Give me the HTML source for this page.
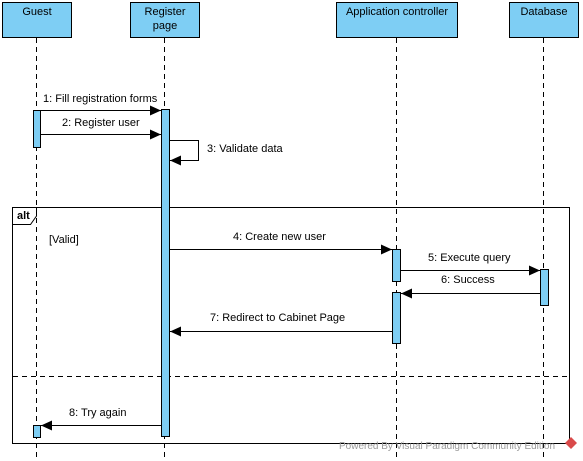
<!DOCTYPE html>
<html><head><meta charset="utf-8"><style>
html,body{margin:0;padding:0;background:#fff;}
svg{display:block;font-family:"Liberation Sans",Arial,sans-serif;font-size:11px;}
</style></head><body>
<svg width="583" height="461" viewBox="0 0 583 461" xmlns="http://www.w3.org/2000/svg">
<defs>
<marker id="a" markerWidth="12" markerHeight="10" refX="11" refY="5" orient="auto" markerUnits="userSpaceOnUse">
<path d="M0,0 L11,5 L0,10 Z" fill="#000"/></marker>
</defs>
<g fill="#7ecef4" stroke="#000" stroke-width="1">
<rect x="2.5" y="2.5" width="69" height="35"/>
<rect x="130.5" y="2.5" width="69" height="35"/>
<rect x="336.5" y="2.5" width="121" height="35"/>
<rect x="509.5" y="2.5" width="69" height="35"/>
</g>
<g font-size="11" text-anchor="middle" fill="#000">
<text x="37" y="15">Guest</text>
<text x="165" y="15">Register</text>
<text x="165" y="29">page</text>
<text x="397" y="15">Application controller</text>
<text x="544" y="15">Database</text>
</g>
<g stroke="#000" stroke-dasharray="5,4" stroke-width="1">
<line x1="36.5" y1="38" x2="36.5" y2="461"/>
<line x1="164.5" y1="38" x2="164.5" y2="461"/>
<line x1="396.5" y1="38" x2="396.5" y2="461"/>
<line x1="543.5" y1="38" x2="543.5" y2="461"/>
</g>
<!-- alt frame -->
<rect x="12.5" y="207.5" width="557" height="236" fill="none" stroke="#000"/>
<path d="M12.5,224.5 L30.5,224.5 L36.5,216 L36.5,207.5" fill="none" stroke="#000"/>
<text x="17" y="219" font-weight="bold" font-size="11">alt</text>
<line x1="13" y1="376.5" x2="569" y2="376.5" stroke="#000" stroke-dasharray="5,4"/>
<text x="49" y="243">[Valid]</text>
<!-- activations -->
<g fill="#7ecef4" stroke="#000">
<rect x="33.5" y="110.5" width="7" height="37"/>
<rect x="161.5" y="109.5" width="8" height="327"/>
<rect x="392.5" y="249.5" width="8" height="32"/>
<rect x="392.5" y="292.5" width="8" height="51"/>
<rect x="540.5" y="269.5" width="8" height="36"/>
<rect x="33.5" y="425.5" width="7" height="12"/>
</g>
<g stroke="#000" fill="none">
<line x1="41" y1="110.5" x2="161" y2="110.5" marker-end="url(#a)"/>
<line x1="41" y1="134.5" x2="161" y2="134.5" marker-end="url(#a)"/>
<polyline points="170,140.5 198.5,140.5 198.5,160.5 170,160.5" marker-end="url(#a)"/>
<line x1="170" y1="249.5" x2="392" y2="249.5" marker-end="url(#a)"/>
<line x1="401" y1="270.5" x2="540" y2="270.5" marker-end="url(#a)"/>
<line x1="540" y1="293.5" x2="401" y2="293.5" marker-end="url(#a)"/>
<line x1="392" y1="331.5" x2="170" y2="331.5" marker-end="url(#a)"/>
<line x1="161" y1="425.5" x2="41" y2="425.5" marker-end="url(#a)"/>
</g>
<g fill="#000">
<text x="43" y="102">1: Fill registration forms</text>
<text x="62" y="126">2: Register user</text>
<text x="207" y="152">3: Validate data</text>
<text x="233" y="240">4: Create new user</text>
<text x="428" y="261">5: Execute query</text>
<text x="441" y="283">6: Success</text>
<text x="210" y="321">7: Redirect to Cabinet Page</text>
<text x="69" y="416">8: Try again</text>
</g>
<text x="339" y="449" fill="#999" font-size="10">Powered By Visual Paradigm Community Edition</text>
<path d="M571,437 L577,443 L571,449 L565,443 Z" fill="#d94a4a"/>
</svg>
</body></html>
